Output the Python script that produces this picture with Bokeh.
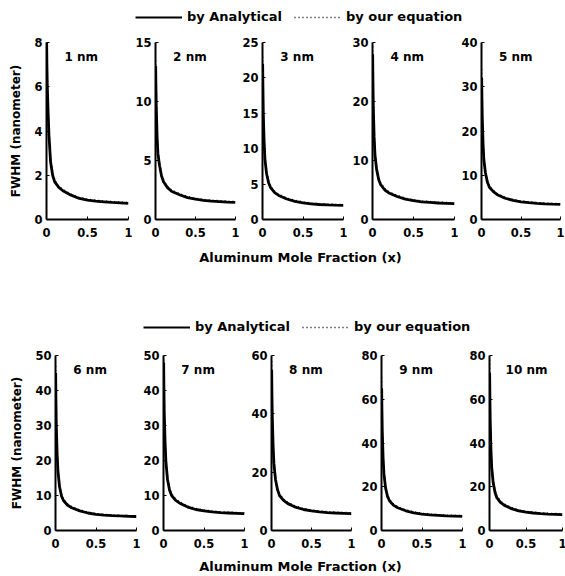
from bokeh.plotting import figure
from bokeh.layouts import column, row
from bokeh.models import FixedTicker, Label, Legend, LegendItem, Range1d
from bokeh.embed import file_html
from bokeh.resources import INLINE

# ---------------- data ----------------
x_fraction = [0.002, 0.005, 0.01, 0.02, 0.03, 0.05, 0.075, 0.1, 0.15, 0.2,
              0.3, 0.4, 0.5, 0.6, 0.7, 0.8, 0.9, 1.0]

panel_labels = ["1 nm", "2 nm", "3 nm", "4 nm", "5 nm",
                "6 nm", "7 nm", "8 nm", "9 nm", "10 nm"]
y_max = [8, 15, 25, 30, 40, 50, 50, 60, 80, 80]
y_ticks = [[0, 2, 4, 6, 8], [0, 5, 10, 15], [0, 5, 10, 15, 20, 25],
           [0, 10, 20, 30], [0, 10, 20, 30, 40], [0, 10, 20, 30, 40, 50],
           [0, 10, 20, 30, 40, 50], [0, 20, 40, 60], [0, 20, 40, 60, 80],
           [0, 20, 40, 60, 80]]
x_ticks = [0, 0.5, 1]
x_tick_labels = {0: "0", 0.5: "0.5", 1: "1"}

analytical_1nm = [8.0, 7.0, 6.0, 4.8, 3.8, 2.6, 2.0, 1.7, 1.45, 1.3, 1.1, 0.95, 0.88, 0.83, 0.8, 0.77, 0.75, 0.73]
analytical_2nm = [13, 11.5, 9.5, 7.0, 5.6, 4.6, 3.7, 3.2, 2.7, 2.4, 2.1, 1.85, 1.72, 1.62, 1.56, 1.52, 1.48, 1.45]
analytical_3nm = [22, 19, 15, 11, 8.5, 6.5, 5.2, 4.5, 3.8, 3.4, 2.9, 2.55, 2.35, 2.2, 2.12, 2.07, 2.03, 2.0]
analytical_4nm = [28, 24, 19, 14, 11, 8.5, 6.8, 5.9, 5.0, 4.5, 3.9, 3.45, 3.2, 3.0, 2.9, 2.8, 2.75, 2.7]
analytical_5nm = [32, 28, 23, 17, 13.5, 10.5, 8.4, 7.3, 6.3, 5.6, 4.8, 4.3, 4.0, 3.8, 3.65, 3.55, 3.47, 3.4]
analytical_6nm = [45, 38, 30, 22, 17, 12.5, 9.8, 8.5, 7.2, 6.5, 5.6, 5.0, 4.6, 4.4, 4.25, 4.15, 4.07, 4.0]
analytical_7nm = [48, 41, 33, 25, 19.5, 14.5, 11.5, 10, 8.6, 7.8, 6.7, 6.0, 5.6, 5.3, 5.1, 5.0, 4.9, 4.8]
analytical_8nm = [55, 48, 39, 29, 23, 17.5, 14, 12, 10.3, 9.3, 8.0, 7.2, 6.7, 6.4, 6.15, 6.0, 5.9, 5.8]
analytical_9nm = [65, 56, 45, 33, 26, 19.5, 15.5, 13.5, 11.5, 10.4, 9.0, 8.1, 7.5, 7.1, 6.9, 6.7, 6.6, 6.5]
analytical_10nm = [72, 62, 50, 37, 29, 22, 17.5, 15, 12.9, 11.6, 10.0, 9.0, 8.4, 8.0, 7.7, 7.5, 7.4, 7.3]

equation_1nm = [8.0, 7.2, 6.2, 5.0, 4.0, 2.8, 2.15, 1.8, 1.5, 1.35, 1.15, 1.0, 0.92, 0.87, 0.84, 0.81, 0.79, 0.77]
equation_2nm = [13.5, 12, 10, 7.4, 5.9, 4.8, 3.9, 3.35, 2.8, 2.5, 2.2, 1.95, 1.8, 1.7, 1.64, 1.6, 1.56, 1.53]
equation_3nm = [23, 20, 16, 11.6, 9.0, 6.9, 5.5, 4.7, 4.0, 3.55, 3.05, 2.7, 2.48, 2.33, 2.24, 2.18, 2.14, 2.1]
equation_4nm = [30, 25.5, 20, 14.8, 11.6, 9.0, 7.2, 6.2, 5.25, 4.7, 4.1, 3.62, 3.36, 3.16, 3.05, 2.95, 2.89, 2.84]
equation_5nm = [34, 29.5, 24, 18, 14.2, 11, 8.8, 7.6, 6.6, 5.85, 5.0, 4.5, 4.2, 4.0, 3.83, 3.72, 3.64, 3.57]
equation_6nm = [47, 40, 31.5, 23, 17.8, 13.1, 10.3, 8.9, 7.55, 6.8, 5.9, 5.25, 4.85, 4.62, 4.46, 4.36, 4.27, 4.2]
equation_7nm = [50, 43, 34.5, 26, 20.4, 15.2, 12, 10.5, 9.0, 8.2, 7.0, 6.3, 5.88, 5.56, 5.36, 5.25, 5.15, 5.05]
equation_8nm = [58, 50, 41, 30.5, 24, 18.3, 14.7, 12.6, 10.8, 9.75, 8.4, 7.55, 7.03, 6.72, 6.46, 6.3, 6.2, 6.1]
equation_9nm = [70, 59, 47, 34.6, 27.3, 20.4, 16.3, 14.2, 12.1, 10.9, 9.45, 8.5, 7.9, 7.45, 7.25, 7.05, 6.93, 6.83]
equation_10nm = [78, 65, 52.5, 38.8, 30.4, 23.1, 18.4, 15.8, 13.5, 12.2, 10.5, 9.45, 8.8, 8.4, 8.1, 7.9, 7.77, 7.67]

analytical = [analytical_1nm, analytical_2nm, analytical_3nm, analytical_4nm, analytical_5nm,
              analytical_6nm, analytical_7nm, analytical_8nm, analytical_9nm, analytical_10nm]
equation = [equation_1nm, equation_2nm, equation_3nm, equation_4nm, equation_5nm,
            equation_6nm, equation_7nm, equation_8nm, equation_9nm, equation_10nm]

# ---------------- styling / geometry ----------------
FONT = "DejaVu Sans"
TOTAL_W = 563
# (left border, frame width, right border) per panel
top_geom = [(46, 82, 4), (23, 80, 4), (22, 81, 4), (25, 82, 4), (20, 79, 6)]
bot_geom = [(55, 81, 4), (22, 81, 4), (20, 80, 4), (26, 81, 4), (21, 73, 7)]


def panel(i, left, fw, right, top_b, fh, bottom_b):
    p = figure(frame_width=fw, frame_height=fh, toolbar_location=None,
               output_backend="svg", x_range=Range1d(0, 1),
               y_range=Range1d(0, y_max[i]),
               min_border_left=left, min_border_right=right,
               min_border_top=top_b, min_border_bottom=bottom_b)
    p.outline_line_color = None
    p.grid.visible = False
    p.line(x_fraction, analytical[i], line_color="black", line_width=2.8)
    p.line(x_fraction, equation[i], line_color="black", line_width=1.4,
           line_dash="1 3")
    for ax in (p.xaxis[0], p.yaxis[0]):
        ax.axis_line_width = 2
        ax.axis_line_color = "black"
        ax.major_tick_in = 3
        ax.major_tick_out = 0
        ax.minor_tick_line_color = None
        ax.major_label_text_font = FONT
        ax.major_label_text_font_style = "bold"
        ax.major_label_text_font_size = "11.5px"
        ax.major_label_text_color = "black"
    p.xaxis.ticker = FixedTicker(ticks=x_ticks)
    p.xaxis.major_label_overrides = x_tick_labels
    p.xaxis.major_label_standoff = 8
    p.yaxis.ticker = FixedTicker(ticks=y_ticks[i])
    p.yaxis.major_label_standoff = 4
    p.add_layout(Label(x=0.22, y=y_max[i] * 0.92, text=panel_labels[i],
                       text_font=FONT, text_font_style="bold",
                       text_font_size="12px", text_baseline="middle",
                       text_color="black"))
    return p


def blank(h):
    p = figure(width=TOTAL_W, height=h, toolbar_location=None,
               output_backend="svg", x_range=Range1d(0, TOTAL_W),
               y_range=Range1d(0, h), min_border=0,
               x_axis_location=None, y_axis_location=None)
    p.outline_line_color = None
    p.grid.visible = False
    return p


def legend_fig(h, x_off, y_off):
    p = blank(h)
    nan = float("nan")
    r1 = p.line(x=[nan], y=[nan], line_color="black", line_width=2)
    r2 = p.line(x=[nan], y=[nan], line_color="black", line_width=1.4,
                line_dash="1 3")
    leg = Legend(items=[LegendItem(label="by Analytical", renderers=[r1]),
                        LegendItem(label="by our equation", renderers=[r2])],
                 orientation="horizontal", location=(x_off, y_off),
                 glyph_width=47, glyph_height=14, label_standoff=5,
                 spacing=12, padding=0, margin=0, border_line_color=None,
                 background_fill_alpha=0, label_text_font=FONT,
                 label_text_font_style="bold", label_text_font_size="13px",
                 label_text_color="black", label_height=14)
    p.add_layout(leg)
    return p


def xlabel_fig(h, y_center):
    p = blank(h)
    p.add_layout(Label(x=300, y=h - y_center, text="Aluminum Mole Fraction (x)",
                       text_font=FONT, text_font_style="bold",
                       text_font_size="13px", text_align="center",
                       text_baseline="middle", text_color="black"))
    return p


top_panels = [panel(k, l, fw, r, 14, 177, 22)
              for k, (l, fw, r) in enumerate(top_geom)]
bot_panels = [panel(k + 5, l, fw, r, 15, 175, 22)
              for k, (l, fw, r) in enumerate(bot_geom)]

for p in (top_panels[0], bot_panels[0]):
    p.yaxis.axis_label = "FWHM (nanometer)"
    p.yaxis.axis_label_text_font = FONT
    p.yaxis.axis_label_text_font_style = "bold"
    p.yaxis.axis_label_text_font_size = "12px"
    p.yaxis.axis_label_text_color = "black"
top_panels[0].yaxis.axis_label_standoff = 8
bot_panels[0].yaxis.axis_label_standoff = 8

layout = column(
    legend_fig(28, 135, 4),
    row(*top_panels, spacing=0),
    xlabel_fig(31, 16),
    legend_fig(68, 143, 6),
    row(*bot_panels, spacing=0),
    xlabel_fig(24, 14),
    spacing=0,
)

open("out.html", "w").write(file_html(layout, INLINE))
